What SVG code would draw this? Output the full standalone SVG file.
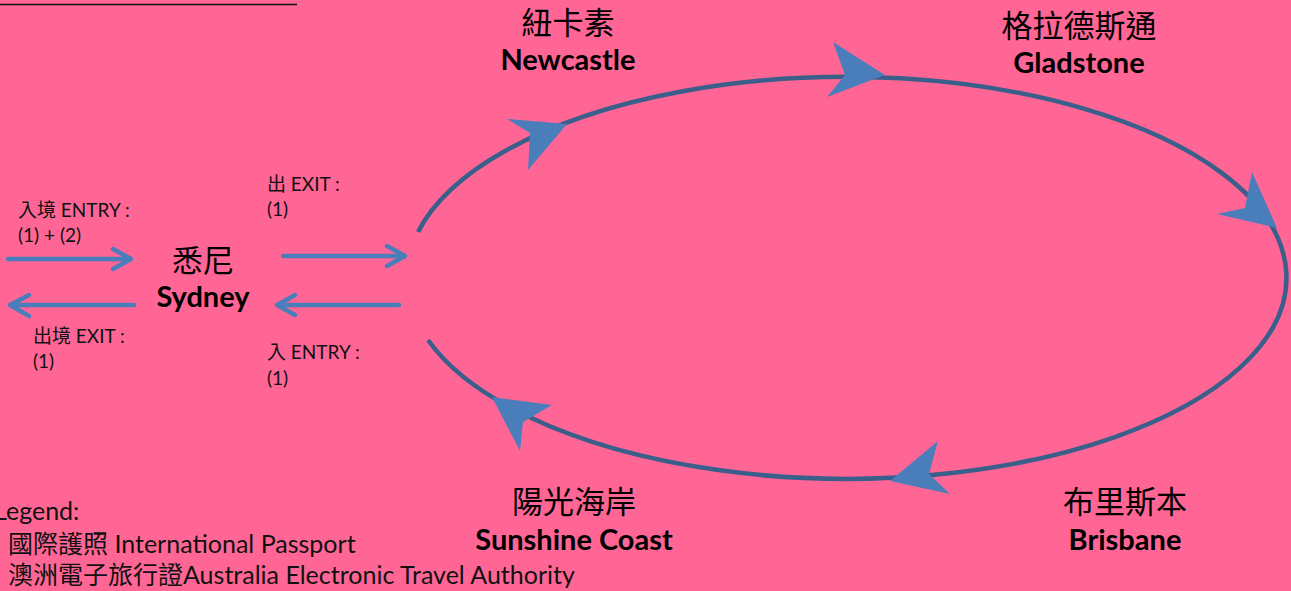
<svg xmlns="http://www.w3.org/2000/svg" width="1291" height="591" viewBox="0 0 1291 591">
<style>
.bg{fill:#FF6695}
.loop{fill:none;stroke:#3A5F8B;stroke-width:4.5}
.ah{fill:#4A7EBB}
.sa{fill:none;stroke:#4A7EBB;stroke-width:4.5;stroke-linecap:round;stroke-linejoin:round}
.s{font-family:Lato,"Noto Sans CJK TC",sans-serif;font-size:19px;fill:#111}
.cn{font-family:"Noto Sans CJK TC",sans-serif;font-size:31px;fill:#000;text-anchor:middle}
.en{font-family:Lato,"Noto Sans CJK TC",sans-serif;font-weight:bold;font-size:29px;fill:#000;text-anchor:middle}
.lg{font-family:Lato,"Noto Sans CJK TC",sans-serif;font-size:25px;fill:#111}
</style>
<rect class="bg" x="0" y="0" width="1291" height="591"/>
<line x1="0" y1="4.5" x2="297" y2="4.5" stroke="#111" stroke-width="1.5"/>
<g id="connectors">
<path class="loop" d="M418,232 A440,201 0 1 1 428,340"/>
<polygon class="ah" points="567,124 507,119 530,133 528,170"/>
<polygon class="ah" points="885,75 833,42 845,75 827,97"/>
<polygon class="ah" points="1277,228 1252,172 1245,208 1217,214"/>
<polygon class="ah" points="890,481 938,441 929,474 950,494"/>
<polygon class="ah" points="492,397 552,405 523,422 520,451"/>
<path class="sa" d="M8,259 H131 M113,249 L131,259 L113,269"/>
<path class="sa" d="M134,305 H10 M29,295 L10,305 L29,316"/>
<path class="sa" d="M283,256 H405 M387,246 L405,256 L387,266"/>
<path class="sa" d="M399,305 H277 M295,295 L277,305 L295,315"/>
</g>
<g id="label-entry-in">
<text class="s" x="18" y="217">入境 ENTRY :</text>
<text class="s" x="18" y="242">(1) + (2)</text>
</g>
<g id="label-exit-out">
<text class="s" x="33" y="343">出境 EXIT :</text>
<text class="s" x="33" y="368">(1)</text>
</g>
<g id="label-exit">
<text class="s" x="267" y="191">出 EXIT :</text>
<text class="s" x="267" y="216">(1)</text>
</g>
<g id="label-entry">
<text class="s" x="267" y="359">入 ENTRY :</text>
<text class="s" x="267" y="385">(1)</text>
</g>
<g id="sydney">
<text class="cn" x="203" y="272">悉尼</text>
<text class="en" x="203" y="307">Sydney</text>
</g>
<g id="newcastle">
<text class="cn" x="568" y="34">紐卡素</text>
<text class="en" x="568" y="70">Newcastle</text>
</g>
<g id="gladstone">
<text class="cn" x="1079" y="37">格拉德斯通</text>
<text class="en" x="1079" y="73">Gladstone</text>
</g>
<g id="brisbane">
<text class="cn" x="1125" y="513">布里斯本</text>
<text class="en" x="1125" y="550">Brisbane</text>
</g>
<g id="sunshine-coast">
<text class="cn" x="574" y="513">陽光海岸</text>
<text class="en" x="574" y="550">Sunshine Coast</text>
</g>
<g id="legend">
<text class="lg" x="-6" y="520">Legend:</text>
<text class="lg" x="8" y="553">國際護照 International Passport</text>
<text class="lg" x="8" y="584">澳洲電子旅行證Australia Electronic Travel Authority</text>
</g>
</svg>
